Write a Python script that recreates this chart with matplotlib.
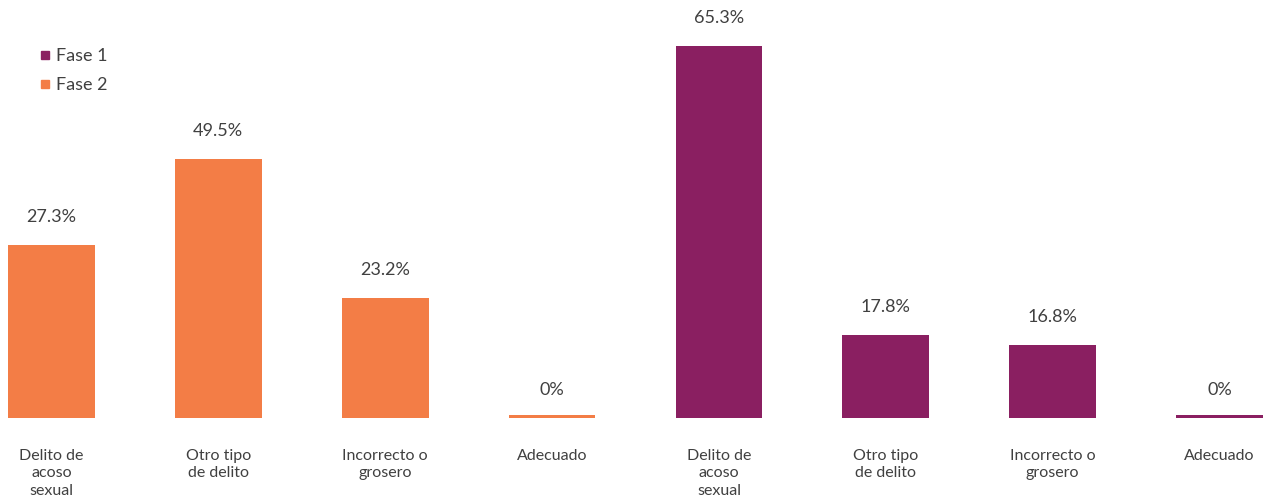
import matplotlib.pyplot as plt
import numpy as np
from matplotlib.lines import Line2D

plt.rcParams['font.family'] = ['Lato', 'DejaVu Sans']

categories = ['Delito de\nacoso\nsexual', 'Otro tipo\nde delito', 'Incorrecto o\ngrosero', 'Adecuado',
              'Delito de\nacoso\nsexual', 'Otro tipo\nde delito', 'Incorrecto o\ngrosero', 'Adecuado']
# bar heights as drawn in the picture (the source bars are not to scale with the labels)
heights = [30.4, 45.5, 21.1, 0, 65.3, 14.6, 12.8, 0]
value_labels = ['27.3%', '49.5%', '23.2%', '0%', '65.3%', '17.8%', '16.8%', '0%']
phase = ['Fase 2'] * 4 + ['Fase 1'] * 4

colors = {'Fase 1': '#8A1F61', 'Fase 2': '#F37D46'}
txt = '#404040'

fig = plt.figure(figsize=(12.63, 5), dpi=100)
ax = fig.add_axes([0, 0.164, 1, 0.836])

x = np.arange(len(heights))
h = np.array(heights, dtype=float)
drawn = np.where(h == 0, 0.45, h)  # zero bars shown as a thin line
ax.bar(x, drawn, width=0.52, color=[colors[p] for p in phase], linewidth=0)

for xi, hi, lab in zip(x, h, value_labels):
    ax.annotate(lab, (xi, hi), xytext=(0, 20), textcoords='offset points',
                ha='center', va='center', fontsize=13, color=txt)

ax.set_xlim(-0.308, 7.26)
ax.set_ylim(0, 73.4)
ax.set_xticks(x)
ax.set_xticklabels(categories, fontsize=11.5, color=txt, linespacing=1.32)
ax.tick_params(axis='x', length=0, pad=22)
ax.set_yticks([])
for s in ax.spines.values():
    s.set_visible(False)

handles = [Line2D([], [], marker='s', linestyle='', markersize=6, color=colors['Fase 1']),
           Line2D([], [], marker='s', linestyle='', markersize=6, color=colors['Fase 2'])]
fig.legend(handles, ['Fase 1', 'Fase 2'], loc='upper left', bbox_to_anchor=(0.024, 0.922),
           frameon=False, fontsize=13, handlelength=0.6, handletextpad=0.35,
           labelspacing=0.72, labelcolor=txt, borderpad=0)

fig.savefig('out.png', dpi=100)
